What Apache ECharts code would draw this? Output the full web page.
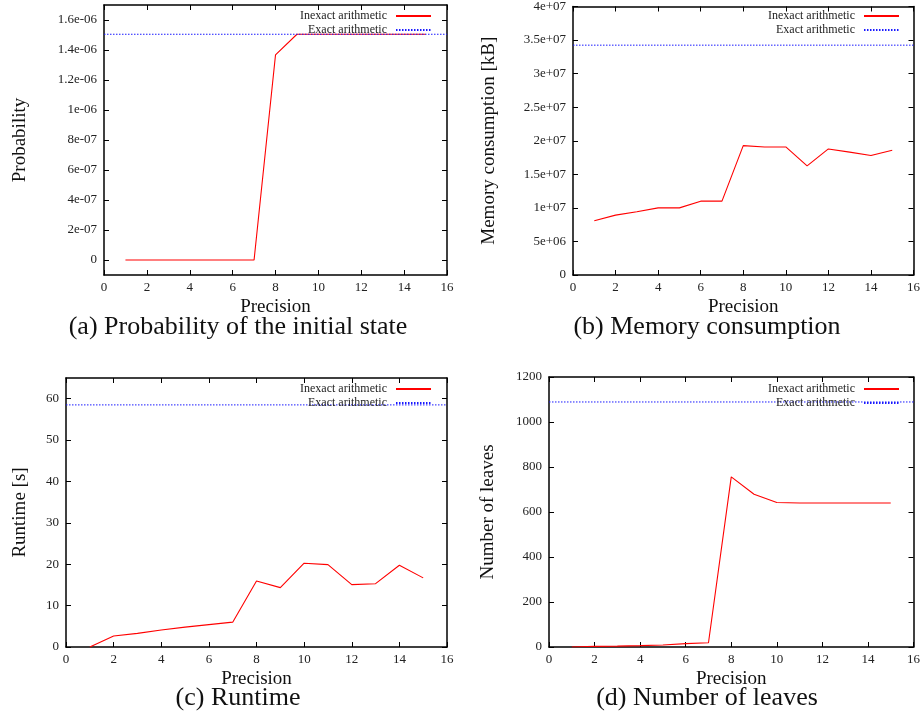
<!DOCTYPE html>
<html>
<head>
    <meta charset="utf-8">
    <title>Precision plots</title>
    <script src="https://cdn.jsdelivr.net/npm/echarts@6/dist/echarts.min.js"></script>
    <style>
        html, body { margin: 0; padding: 0; background: #fff; }
        #main { width: 923px; height: 717px; }
    </style>
</head>
<body>
    <div id="main"></div>
    <script type="text/javascript">
        // ---------------- data ----------------
        var precision = [1, 2, 3, 4, 5, 6, 7, 8, 9, 10, 11, 12, 13, 14, 15];
        var legendNames = ['Inexact arithmetic', 'Exact arithmetic'];

        // (a) probability of the initial state
        var probInexact = [0, 0, 0, 0, 0, 0, 0, 1.367e-6, 1.505e-6, 1.505e-6, 1.505e-6, 1.505e-6, 1.505e-6, 1.505e-6, 1.505e-6];
        var probExact = 1.505e-6;
        var probTicks = [0, 2e-7, 4e-7, 6e-7, 8e-7, 1e-6, 1.2e-6, 1.4e-6, 1.6e-6];

        // (b) memory consumption [kB]
        var memInexact = [8.08e6, 8.92e6, 9.42e6, 1.0e7, 1.0e7, 1.1e7, 1.1e7, 1.928e7, 1.908e7, 1.908e7, 1.625e7, 1.878e7, 1.83e7, 1.78e7, 1.858e7];
        var memExact = 3.424e7;
        var memTicks = [0, 5e6, 1e7, 1.5e7, 2e7, 2.5e7, 3e7, 3.5e7, 4e7];

        // (c) runtime [s]
        var runInexact = [0, 2.66, 3.3, 4.1, 4.8, 5.4, 6.0, 15.97, 14.35, 20.24, 19.9, 15.08, 15.3, 19.76, 16.7];
        var runExact = 58.5;
        var runTicks = [0, 10, 20, 30, 40, 50, 60];

        // (d) number of leaves
        var leafInexact = [0, 3, 4, 6, 9, 15, 19, 756, 679, 642, 640, 640, 640, 640, 640];
        var leafExact = 1089;
        var leafTicks = [0, 200, 400, 600, 800, 1000, 1200];

        var captions = ['(a) Probability of the initial state', '(b) Memory consumption',
                        '(c) Runtime', '(d) Number of leaves'];
        // ------------------------------------------------------------

        var SERIF = '"Liberation Serif", "DejaVu Serif", serif';

        // gnuplot style exponent: 1.6e-06, 4e+07
        function sci(v) {
            if (v === 0) return '0';
            var s = Number(v.toPrecision(6)).toExponential();
            return s.replace(/e([+-])(\d+)$/, function (m, sg, d) {
                return 'e' + sg + (d.length < 2 ? '0' + d : d);
            });
        }
        function plain(v) { return String(v); }

        // layout of each panel (pixels)
        var panels = [
            { grid: { left: 104, top: 5, width: 343, height: 270 }, yName: 'Probability', nameGap: 74,
              ymin: -1e-7, ymax: 1.7e-6, ticks: probTicks, fmt: sci, inexact: probInexact, exact: probExact,
              legendRight: 491, legendTop: 10, capX: 238, capY: 327 },
            { grid: { left: 573, top: 5, width: 343, height: 270 }, yName: 'Memory consumption [kB]', nameGap: 74,
              ymin: 0, ymax: 4e7, ticks: memTicks, fmt: sci, inexact: memInexact, exact: memExact,
              legendRight: 23, legendTop: 10, capX: 707, capY: 327 },
            { grid: { left: 66, top: 378, width: 381, height: 269 }, yName: 'Runtime [s]', nameGap: 36,
              ymin: 0, ymax: 65, ticks: runTicks, fmt: plain, inexact: runInexact, exact: runExact,
              legendRight: 491, legendTop: 383, capX: 238, capY: 698 },
            { grid: { left: 549, top: 377, width: 367, height: 270 }, yName: 'Number of leaves', nameGap: 51,
              ymin: 0, ymax: 1200, ticks: leafTicks, fmt: plain, inexact: leafInexact, exact: leafExact,
              legendRight: 23, legendTop: 383, capX: 707, capY: 698 }
        ];

        var boxLine = { show: true, onZero: false, lineStyle: { color: '#000', width: 1.5 } };
        var inTick = { show: true, inside: true, length: 5, lineStyle: { color: '#000', width: 1 } };
        var tickFont = { fontFamily: SERIF, fontSize: 13, color: '#222' };

        var option = {
            backgroundColor: '#fff',
            animation: false,
            grid: [], xAxis: [], yAxis: [], series: [], legend: [], graphic: []
        };

        panels.forEach(function (p, i) {
            option.grid.push(p.grid);

            // bottom + mirrored top axis
            option.xAxis.push({
                type: 'value', gridIndex: i, position: 'bottom', min: 0, max: 16, interval: 2,
                name: 'Precision', nameLocation: 'middle', nameGap: 23,
                nameTextStyle: { fontFamily: SERIF, fontSize: 19, color: '#111' },
                axisLine: boxLine, axisTick: inTick, splitLine: { show: false },
                axisLabel: Object.assign({ margin: 6 }, tickFont)
            });
            option.xAxis.push({
                type: 'value', gridIndex: i, position: 'top', min: 0, max: 16, interval: 2,
                axisLine: boxLine, axisTick: inTick, splitLine: { show: false },
                axisLabel: { show: false }
            });

            // left + mirrored right axis
            option.yAxis.push({
                type: 'value', gridIndex: i, position: 'left', min: p.ymin, max: p.ymax,
                name: p.yName, nameLocation: 'middle', nameGap: p.nameGap, nameRotate: 90,
                nameTextStyle: { fontFamily: SERIF, fontSize: 19, color: '#111' },
                axisLine: boxLine, splitLine: { show: false },
                axisTick: Object.assign({ customValues: p.ticks }, inTick),
                axisLabel: Object.assign({ margin: 7, customValues: p.ticks, formatter: p.fmt }, tickFont)
            });
            option.yAxis.push({
                type: 'value', gridIndex: i, position: 'right', min: p.ymin, max: p.ymax,
                axisLine: boxLine, splitLine: { show: false },
                axisTick: Object.assign({ customValues: p.ticks }, inTick),
                axisLabel: { show: false, customValues: p.ticks }
            });

            var xa = i * 2, ya = i * 2;
            option.series.push({
                name: legendNames[0], type: 'line', xAxisIndex: xa, yAxisIndex: ya,
                symbol: 'none', silent: true,
                lineStyle: { color: '#ff0000', width: 1.1 }, itemStyle: { color: '#ff0000' },
                data: precision.map(function (x, k) { return [x, p.inexact[k]]; })
            });
            option.series.push({
                name: legendNames[1], type: 'line', xAxisIndex: xa, yAxisIndex: ya,
                symbol: 'none', silent: true,
                lineStyle: { color: '#1a1aff', width: 1, type: [1.5, 1.5] }, itemStyle: { color: '#1a1aff' },
                data: [[0, p.exact], [16, p.exact]]
            });

            // line-only legend keys (hide the marker circle)
            option.legend.push({
                data: legendNames, orient: 'vertical', align: 'right',
                right: p.legendRight, top: p.legendTop, padding: 0,
                itemWidth: 35, itemHeight: 12, itemGap: 2, selectedMode: false,
                itemStyle: { opacity: 0, borderWidth: 0 },
                textStyle: { fontFamily: SERIF, fontSize: 12, color: '#222', padding: [0, 4, 0, 0] }
            });

            option.graphic.push({
                type: 'text', x: p.capX, y: p.capY,
                style: { text: captions[i], font: '26px ' + SERIF, fill: '#111', align: 'center', verticalAlign: 'middle' }
            });
        });

        var chart = echarts.init(document.getElementById('main'));
        chart.setOption(option);
    </script>
</body>
</html>
